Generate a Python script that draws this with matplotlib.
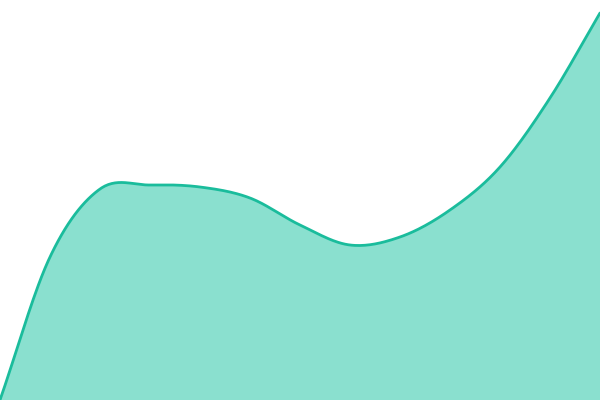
import matplotlib

matplotlib.use("Agg")
import matplotlib.pyplot as plt
import numpy as np

# Valores (eje oculto)
posiciones = [0, 50, 100, 150, 200, 250, 300, 350, 400, 450, 500, 550, 600]
valores = [0, 143, 211, 215, 213, 202, 175, 155, 163, 190, 233, 302, 387]

COLOR_LINEA = "#1abc9c"
COLOR_AREA = "#8ae0cf"


def catmull_rom(xs, ys, pasos=30):
    """Suaviza la serie con un spline Catmull-Rom (como una curva d3)."""
    xs = np.asarray(xs, dtype=float)
    ys = np.asarray(ys, dtype=float)
    px = np.concatenate([[2 * xs[0] - xs[1]], xs, [2 * xs[-1] - xs[-2]]])
    py = np.concatenate([[2 * ys[0] - ys[1]], ys, [2 * ys[-1] - ys[-2]]])
    out_x, out_y = [], []
    t = np.linspace(0, 1, pasos, endpoint=False)
    for i in range(1, len(px) - 2):
        for p, out in ((px, out_x), (py, out_y)):
            p0, p1, p2, p3 = p[i - 1], p[i], p[i + 1], p[i + 2]
            out.extend(0.5 * ((2 * p1) + (-p0 + p2) * t
                              + (2 * p0 - 5 * p1 + 4 * p2 - p3) * t ** 2
                              + (-p0 + 3 * p1 - 3 * p2 + p3) * t ** 3))
    out_x.append(xs[-1])
    out_y.append(ys[-1])
    return np.array(out_x), np.array(out_y)


sx, sy = catmull_rom(posiciones, valores)

fig = plt.figure(figsize=(6, 4), dpi=100)
ax = fig.add_axes([0, 0, 1, 1])
ax.fill_between(sx, sy, 0, color=COLOR_AREA, linewidth=0)
ax.plot(sx, sy, color=COLOR_LINEA, linewidth=2.0, solid_capstyle="round")
ax.set_xlim(0, 600)
ax.set_ylim(0, 400)
ax.axis("off")
fig.savefig("out.png", dpi=100)
plt.close(fig)
